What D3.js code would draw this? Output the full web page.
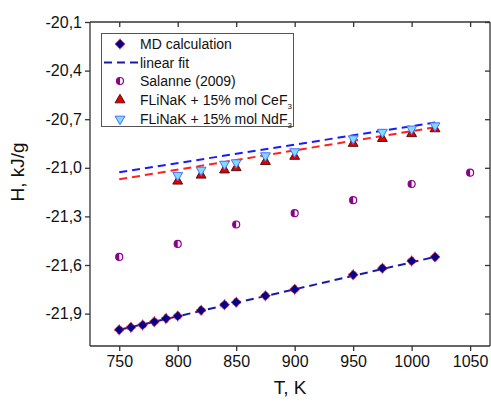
<!DOCTYPE html>
<html>
<head>
<meta charset="utf-8">
<script src="https://cdn.jsdelivr.net/npm/d3@7"></script>
<style>
  body { margin: 0; background: #fff; }
  text { font-family: "Liberation Sans", Arial, sans-serif; fill: #111; }
</style>
</head>
<body>
<div id="canvas"></div>
<script>
"use strict"

/* data */
let mdT = [750, 760, 770, 780, 790, 800, 820, 840, 850, 875, 900, 950, 975, 1000, 1020];
let mdH = [-22.00, -21.985, -21.97, -21.95, -21.93, -21.915, -21.88, -21.845, -21.83, -21.79, -21.75, -21.66, -21.62, -21.575, -21.55];
let salanneT = [750, 800, 850, 900, 950, 1000, 1050];
let salanneH = [-21.55, -21.47, -21.35, -21.28, -21.20, -21.10, -21.03];
let saltT = [800, 820, 840, 850, 875, 900, 950, 975, 1000, 1020];
let ceH = [-21.083, -21.046, -21.014, -21.0, -20.962, -20.93, -20.85, -20.82, -20.79, -20.76];
let ndH = [-21.046, -21.014, -20.977, -20.968, -20.925, -20.90, -20.82, -20.78, -20.76, -20.74];
let fitT = [750, 1020];
let mdFitH = [-22.0, -21.55];
let ceFitH = [-21.071, -20.75];
let ndFitH = [-21.028, -20.72];
let xTicks = [750, 800, 850, 900, 950, 1000, 1050];
let yTicks = [-21.9, -21.6, -21.3, -21.0, -20.7, -20.4, -20.1];
let legendLabels = ["MD calculation", "linear fit", "Salanne (2009)", "FLiNaK + 15% mol CeF", "FLiNaK + 15% mol NdF"];

let drawing = d3.select("#canvas")
    .append("svg")
    .attr("width", 491)
    .attr("height", 403);

let plotLeft = 90, plotRight = 490, plotTop = 22, plotBottom = 346;

let x = d3.scaleLinear().domain([725, 1067]).range([plotLeft, plotRight]);
let y = d3.scaleLinear().domain([-22.1, -20.1]).range([plotBottom, plotTop]);

let locale = d3.formatLocale({decimal: ",", thousands: ".", grouping: [3], currency: ["", ""], minus: "-"});
let yFmt = locale.format(".1f");

/* axes: left/bottom ticks outside, top/right ticks inside */
let axisColor = "#333";
let gx = drawing.append("g")
    .attr("transform", "translate(0," + plotBottom + ")")
    .call(d3.axisBottom(x).tickValues(xTicks).tickFormat(d3.format("d")).tickSize(5).tickSizeOuter(0).tickPadding(5));
let gy = drawing.append("g")
    .attr("transform", "translate(" + plotLeft + ",0)")
    .call(d3.axisLeft(y).tickValues(yTicks).tickFormat(yFmt).tickSize(5).tickSizeOuter(0).tickPadding(3));
let gxTop = drawing.append("g")
    .attr("transform", "translate(0," + plotTop + ")")
    .call(d3.axisBottom(x).tickValues(xTicks).tickSize(5).tickSizeOuter(0).tickFormat(""));
let gyRight = drawing.append("g")
    .attr("transform", "translate(" + plotRight + ",0)")
    .call(d3.axisLeft(y).tickValues(yTicks).tickSize(5).tickSizeOuter(0).tickFormat(""));

[gx, gy, gxTop, gyRight].forEach(function (g) {
    g.selectAll("path, line").attr("stroke", axisColor).attr("stroke-width", 1.3);
    g.selectAll("text").style("font-size", "16px").attr("fill", "#111");
});
gx.select(".domain").attr("d", "M" + plotLeft + ",0H" + plotRight);
gxTop.select(".domain").attr("d", "M" + plotLeft + ",0H" + plotRight);
gy.select(".domain").attr("d", "M0," + plotTop + "V" + plotBottom);
gyRight.select(".domain").attr("d", "M0," + plotTop + "V" + plotBottom);

/* axis titles */
drawing.append("text")
    .attr("x", 290)
    .attr("y", 394)
    .attr("text-anchor", "middle")
    .style("font-size", "19px")
    .text("T, K");
drawing.append("text")
    .attr("transform", "translate(24,172) rotate(-90)")
    .attr("text-anchor", "middle")
    .style("font-size", "19px")
    .text("H, kJ/g");

/* fit lines */
let line = d3.line().x(d => x(d[0])).y(d => y(d[1]));
function drawFit(hs, color) {
    drawing.append("path")
        .attr("d", line(fitT.map((t, i) => [t, hs[i]])))
        .attr("fill", "none")
        .attr("stroke", color)
        .attr("stroke-width", 2)
        .attr("stroke-dasharray", "8,5");
}
drawFit(ndFitH, "#1a1aff");
drawFit(ceFitH, "#ff2020");
drawFit(mdFitH, "#1a1aa8");

/* marker shapes */
let diamond = d3.symbol().type(d3.symbolSquare).size(50)();
let triangle = d3.symbol().type(d3.symbolTriangle).size(42)();
let halfLeft = "M0,-3.5A3.5,3.5 0 0 0 0,3.5Z";

function drawDiamond(g, cx, cy) {
    g.append("path")
        .attr("d", diamond)
        .attr("transform", "translate(" + cx + "," + cy + ") rotate(45)")
        .attr("fill", "#00008b")
        .attr("stroke", "#ff2020")
        .attr("stroke-width", 1)
        .attr("stroke-dasharray", "1,1");
}
function drawHalfCircle(g, cx, cy) {
    g.append("circle")
        .attr("cx", cx).attr("cy", cy).attr("r", 3.5)
        .attr("fill", "#fff")
        .attr("stroke", "#8b008b")
        .attr("stroke-width", 1.2);
    g.append("path")
        .attr("d", halfLeft)
        .attr("transform", "translate(" + cx + "," + cy + ")")
        .attr("fill", "#8b008b");
}
function drawUp(g, cx, cy) {
    g.append("path")
        .attr("d", triangle)
        .attr("transform", "translate(" + cx + "," + cy + ")")
        .attr("fill", "#e00000")
        .attr("stroke", "#5a1010")
        .attr("stroke-width", 1);
}
function drawDown(g, cx, cy) {
    g.append("path")
        .attr("d", triangle)
        .attr("transform", "translate(" + cx + "," + cy + ") rotate(180)")
        .attr("fill", "#7fdcff")
        .attr("stroke", "#4a6cff")
        .attr("stroke-width", 1);
}

let marks = drawing.append("g");
salanneT.forEach((t, i) => drawHalfCircle(marks, x(t), y(salanneH[i])));
saltT.forEach((t, i) => drawUp(marks, x(t), y(ceH[i])));
saltT.forEach((t, i) => drawDown(marks, x(t), y(ndH[i])));
mdT.forEach((t, i) => drawDiamond(marks, x(t), y(mdH[i])));

/* legend */
let legend = drawing.append("g");
legend.append("rect")
    .attr("x", 101.5).attr("y", 33.5)
    .attr("width", 192).attr("height", 93)
    .attr("fill", "#fff")
    .attr("stroke", "#555")
    .attr("stroke-width", 1);
let rowY = [44, 62.5, 81, 100, 119];
drawDiamond(legend, 120, rowY[0]);
legend.append("line")
    .attr("x1", 104).attr("x2", 138)
    .attr("y1", rowY[1]).attr("y2", rowY[1])
    .attr("stroke", "#1a1aa8")
    .attr("stroke-width", 2)
    .attr("stroke-dasharray", "8,5");
drawHalfCircle(legend, 120, rowY[2]);
drawUp(legend, 120, rowY[3]);
drawDown(legend, 120, rowY[4]);

legendLabels.forEach(function (label, i) {
    let t = legend.append("text")
        .attr("x", 140)
        .attr("y", rowY[i] + 5)
        .style("font-size", "14px")
        .text(label);
    if (i >= 3) {
        t.append("tspan")
            .attr("dy", 4)
            .style("font-size", "8px")
            .text("3");
    }
});
</script>
</body>
</html>
